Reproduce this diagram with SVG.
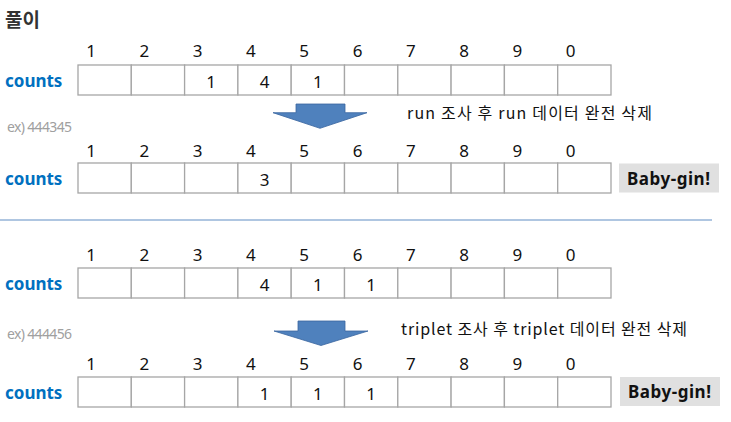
<svg xmlns="http://www.w3.org/2000/svg" width="731" height="422" viewBox="0 0 731 422">
<style>
.cell{fill:#fff;stroke:#a6a6a6;stroke-width:1.3}
.hdr{font-family:"Noto Sans","Liberation Sans",sans-serif;font-size:17px;fill:#111;text-anchor:middle}
.val{font-family:"Noto Sans","Liberation Sans",sans-serif;font-size:17px;fill:#111;text-anchor:middle}
.lbl{font-family:"Noto Sans","Liberation Sans",sans-serif;font-size:17px;font-weight:bold;fill:#0070c0}
.ex{font-family:"Noto Sans","Liberation Sans",sans-serif;font-size:14px;fill:#a0a0a0}
.note{font-family:"Noto Sans CJK KR","Noto Sans",sans-serif;font-size:16px;fill:#111}
.bg{fill:#e0e0e0}
.bgt{font-family:"Noto Sans","Liberation Sans",sans-serif;font-size:17px;font-weight:bold;fill:#111;text-anchor:middle}
.arrow{fill:#4f81bd;stroke:#3a66a0;stroke-width:0.8}
</style>
<defs>
<g id="cells">
<rect class="cell" x="78" y="0" width="53.3" height="30"/>
<rect class="cell" x="131.3" y="0" width="53.3" height="30"/>
<rect class="cell" x="184.6" y="0" width="53.3" height="30"/>
<rect class="cell" x="237.9" y="0" width="53.3" height="30"/>
<rect class="cell" x="291.2" y="0" width="53.3" height="30"/>
<rect class="cell" x="344.5" y="0" width="53.3" height="30"/>
<rect class="cell" x="397.8" y="0" width="53.3" height="30"/>
<rect class="cell" x="451.1" y="0" width="53.3" height="30"/>
<rect class="cell" x="504.4" y="0" width="53.3" height="30"/>
<rect class="cell" x="557.7" y="0" width="53.3" height="30"/>
</g>
<g id="hdrs">
<text class="hdr" x="91" y="0">1</text>
<text class="hdr" x="144.3" y="0">2</text>
<text class="hdr" x="197.6" y="0">3</text>
<text class="hdr" x="250.9" y="0">4</text>
<text class="hdr" x="304.2" y="0">5</text>
<text class="hdr" x="357.5" y="0">6</text>
<text class="hdr" x="410.8" y="0">7</text>
<text class="hdr" x="464.1" y="0">8</text>
<text class="hdr" x="517.4" y="0">9</text>
<text class="hdr" x="570.7" y="0">0</text>
</g>
</defs>
<text id="title" x="5" y="27" font-family="'Noto Sans CJK KR','Noto Sans',sans-serif" font-size="19" font-weight="bold" fill="#333">풀이</text>

<g id="row1">
<use href="#hdrs" y="57"/>
<text class="lbl" x="5" y="87">counts</text>
<use href="#cells" y="65"/>
<text class="val" x="211" y="87.5">1</text>
<text class="val" x="264.5" y="87.5">4</text>
<text class="val" x="317.8" y="87.5">1</text>
</g>

<text id="ex1" class="ex" x="7" y="132" textLength="65">ex) 444345</text>
<text id="note1" class="note" x="407" y="119" textLength="245">run 조사 후 run 데이터 완전 삭제</text>

<g id="row2">
<use href="#hdrs" y="157"/>
<text class="lbl" x="5" y="185">counts</text>
<use href="#cells" y="163"/>
<text class="val" x="264.5" y="185.5">3</text>
</g>
<g id="babygin1">
<rect class="bg" x="619" y="163.5" width="100" height="29"/>
<text class="bgt" x="668.5" y="184.5" textLength="83">Baby-gin!</text>
</g>

<line id="divider" x1="0" y1="220" x2="712" y2="220" stroke="#95b3d7" stroke-width="1.3"/>

<g id="row3">
<use href="#hdrs" y="261"/>
<text class="lbl" x="5" y="290">counts</text>
<use href="#cells" y="268"/>
<text class="val" x="264.5" y="290.5">4</text>
<text class="val" x="317.8" y="290.5">1</text>
<text class="val" x="371.1" y="290.5">1</text>
</g>

<text id="ex2" class="ex" x="7" y="339" textLength="65">ex) 444456</text>
<text id="note2" class="note" x="401" y="335" textLength="286">triplet 조사 후 triplet 데이터 완전 삭제</text>

<g id="row4">
<use href="#hdrs" y="370"/>
<text class="lbl" x="5" y="399">counts</text>
<use href="#cells" y="377"/>
<text class="val" x="264.5" y="399.5">1</text>
<text class="val" x="317.8" y="399.5">1</text>
<text class="val" x="371.1" y="399.5">1</text>
</g>
<g id="babygin2">
<rect class="bg" x="620" y="377" width="100" height="29"/>
<text class="bgt" x="669.5" y="398" textLength="83">Baby-gin!</text>
</g>

<g id="connectors">
<polygon class="arrow" points="296,104 345,104 345,112.7 367,112.7 320,128.3 273,112.7 296,112.7"/>
<polygon class="arrow" points="298,321 345,321 345,331 368,331 321,345.5 274,331 298,331"/>
</g>
</svg>
